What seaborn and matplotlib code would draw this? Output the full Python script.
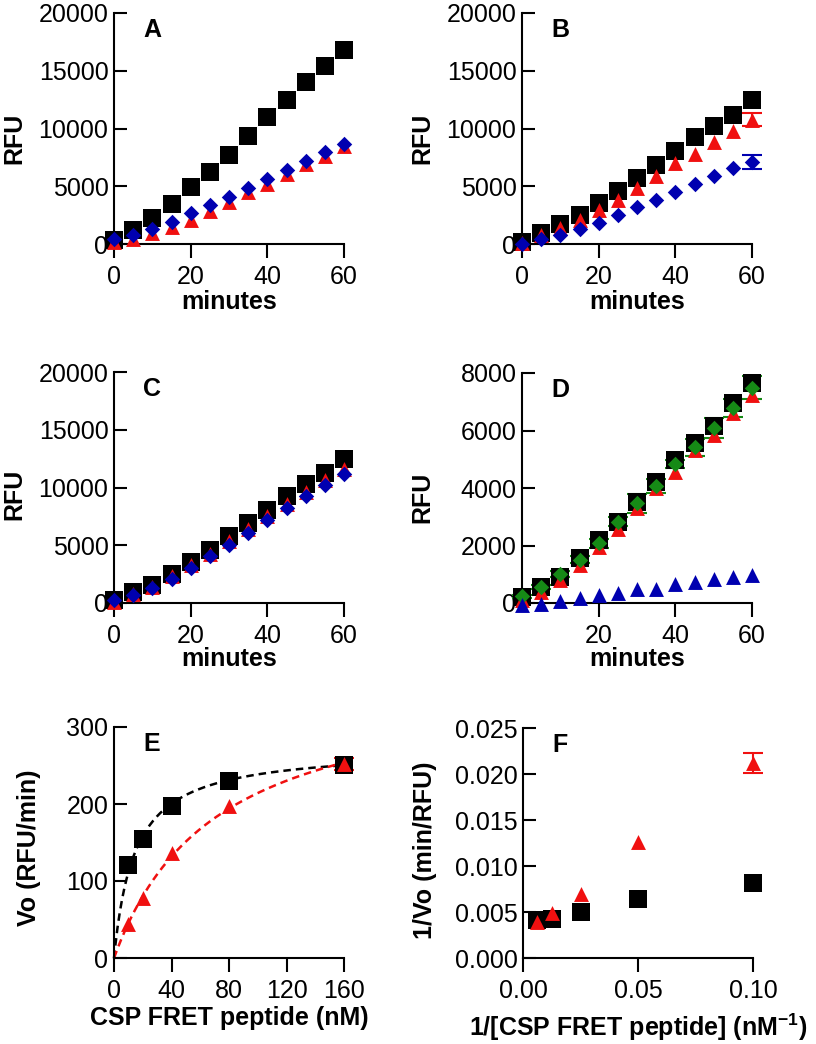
import numpy as np
import matplotlib
matplotlib.use("Agg")
import matplotlib.pyplot as plt
import seaborn as sns

sns.set_theme(style="ticks")
plt.rcParams["font.family"] = ["Liberation Sans", "DejaVu Sans"]
plt.rcParams["mathtext.fontset"] = "custom"
plt.rcParams["mathtext.rm"] = "Liberation Sans"
plt.rcParams["mathtext.bf"] = "Liberation Sans:bold"
for key in ["text.color", "axes.labelcolor", "xtick.color", "ytick.color", "axes.edgecolor"]:
    plt.rcParams[key] = "black"

# colours
BLACK = "#000000"
RED = "#F01010"
BLUE = "#0000B0"
GREEN = "#168A16"

# time course panels (A-D)
minutes = [0, 5, 10, 15, 20, 25, 30, 35, 40, 45, 50, 55, 60]

a_black = [380, 1240, 2250, 3490, 4940, 6200, 7740, 9320, 10970, 12440, 14030, 15380, 16830]
a_red = [150, 430, 950, 1440, 2100, 2890, 3600, 4470, 5190, 6030, 6900, 7650, 8460]
a_blue = [430, 800, 1300, 1900, 2680, 3350, 4070, 4850, 5660, 6400, 7220, 7940, 8690]

b_black = [150, 950, 1730, 2540, 3550, 4560, 5710, 6870, 8020, 9240, 10190, 11200, 12500]
b_red = [100, 800, 1390, 2100, 2910, 3840, 4850, 5920, 7010, 7820, 8830, 9810, 10770]
b_blue = [30, 430, 800, 1300, 1820, 2540, 3170, 3840, 4500, 5190, 5860, 6580, 7100]
b_err_x = [60]
b_red_err = [580]
b_blue_err = [620]

c_black = [290, 950, 1530, 2540, 3550, 4560, 5770, 6930, 8080, 9240, 10270, 11260, 12500]
c_red = [100, 750, 1400, 2350, 3250, 4250, 5350, 6450, 7500, 8600, 9650, 10650, 11600]
c_blue = [290, 660, 1300, 2110, 3030, 4070, 5050, 6060, 7160, 8230, 9260, 10250, 11200]

d_black = [210, 560, 910, 1580, 2190, 2830, 3520, 4220, 4980, 5560, 6160, 6950, 7650]
d_red = [120, 380, 790, 1310, 1950, 2590, 3300, 3990, 4570, 5330, 5850, 6600, 7240]
d_green = [230, 560, 1000, 1510, 2070, 2830, 3470, 4080, 4840, 5410, 6080, 6780, 7480]
d_green_err = [60, 80, 100, 120, 150, 150, 330, 250, 150, 290, 350, 300, 400]
d_blue = [-80, -20, 60, 190, 270, 350, 500, 500, 650, 730, 850, 910, 990]

# kinetics panels (E, F)
conc = [10, 20, 40, 80, 160]
e_black = [121, 154, 197, 230, 251]
e_red = [44, 78, 137, 197, 252]
e_err_x = [160]
e_red_err = [8]

inv_conc = [0.1, 0.05, 0.025, 0.0125, 0.00625]
f_black = [0.0082, 0.00643, 0.00495, 0.00423, 0.00408]
f_red = [0.0212, 0.0126, 0.0070, 0.0049, 0.0039]
f_err_x = [0.1]
f_red_err = [0.00107]

W, H = 816, 1044
fig = plt.figure(figsize=(W / 100, H / 100), dpi=100)

SQ = dict(marker="s", s=165)
TRI = dict(marker="^", s=115)
DIA = dict(marker="D", s=62)


def px_axes(left, top, right, bottom):
    ax = fig.add_axes([left / W, 1 - bottom / H, (right - left) / W, (bottom - top) / H])
    ax._box = (left, top, right, bottom)
    return ax


def dots(ax, x, y, color, style, z):
    sns.scatterplot(x=x, y=y, ax=ax, color=color, linewidth=0, legend=False,
                    clip_on=False, zorder=z, **style)


def bars(ax, x, y, err, color, z):
    ax.errorbar(x, y, yerr=err, fmt="none", ecolor=color, elinewidth=1.5,
                capsize=7, capthick=1.5, clip_on=False, zorder=z)


def style(ax, letter, xlim, ylim, xticks, xlabels, yticks, ylabels,
          xlabel, ylabel, xlab_pos, ylab_pos):
    left, top, right, bottom = ax._box
    ax.set_xlim(*xlim)
    ax.set_ylim(*ylim)
    ax.set_xticks(xticks, labels=xlabels)
    ax.set_yticks(yticks, labels=ylabels)
    sns.despine(ax=ax)
    for side in ["left", "bottom"]:
        ax.spines[side].set_linewidth(1.5)
    ax.tick_params(axis="y", direction="in", length=9.5, width=1.5, pad=4, labelsize=18)
    ax.tick_params(axis="x", direction="out", length=10, width=1.5, pad=5, labelsize=18)
    ax.set_xlabel(xlabel, fontsize=18, fontweight="bold", va="center")
    ax.set_ylabel(ylabel, fontsize=18, fontweight="bold", va="center")
    ax.xaxis.set_label_coords((xlab_pos[0] - left) / (right - left),
                              (bottom - xlab_pos[1]) / (bottom - top))
    ax.yaxis.set_label_coords((ylab_pos[0] - left) / (right - left),
                              (bottom - ylab_pos[1]) / (bottom - top))
    ax.text((left + 29) / W, 1 - (top + 5) / H, letter, transform=fig.transFigure,
            fontsize=18, fontweight="bold", ha="left", va="top")


rfu_ticks = [0, 5000, 10000, 15000, 20000]
rfu_labels = [str(t) for t in rfu_ticks]
min_ticks = [0, 20, 40, 60]
min_labels = [str(t) for t in min_ticks]

# A
ax = px_axes(114, 13, 344, 244)
dots(ax, minutes, a_black, BLACK, SQ, 3)
dots(ax, minutes, a_red, RED, TRI, 4)
dots(ax, minutes, a_blue, BLUE, DIA, 5)
style(ax, "A", (0, 60), (0, 20000), min_ticks, min_labels, rfu_ticks, rfu_labels,
      "minutes", "RFU", (229, 302), (14, 138))

# B
ax = px_axes(522, 13, 752, 244)
dots(ax, minutes, b_black, BLACK, SQ, 3)
dots(ax, minutes, b_red, RED, TRI, 4)
dots(ax, minutes, b_blue, BLUE, DIA, 5)
bars(ax, b_err_x, b_red[-1:], b_red_err, RED, 4)
bars(ax, b_err_x, b_blue[-1:], b_blue_err, BLUE, 5)
style(ax, "B", (0, 60), (0, 20000), min_ticks, min_labels, rfu_ticks, rfu_labels,
      "minutes", "RFU", (637, 302), (422, 138))

# C
ax = px_axes(114, 372, 344, 603)
dots(ax, minutes, c_black, BLACK, SQ, 3)
dots(ax, minutes, c_red, RED, TRI, 4)
dots(ax, minutes, c_blue, BLUE, DIA, 5)
style(ax, "C", (0, 60), (0, 20000), min_ticks, min_labels, rfu_ticks, rfu_labels,
      "minutes", "RFU", (229, 659), (14, 494))

# D
ax = px_axes(522, 373, 752, 603)
bars(ax, minutes, d_green, d_green_err, GREEN, 2)
dots(ax, minutes, d_black, BLACK, SQ, 3)
dots(ax, minutes, d_red, RED, TRI, 4)
dots(ax, minutes, d_green, GREEN, DIA, 5)
dots(ax, minutes, d_blue, BLUE, TRI, 6)
d_ticks = [0, 2000, 4000, 6000, 8000]
style(ax, "D", (0, 60), (0, 8000), [20, 40, 60], ["20", "40", "60"],
      d_ticks, [str(t) for t in d_ticks], "minutes", "RFU", (637, 659), (422, 497))

# E - Michaelis-Menten fit (Hanes-Woolf linearisation of the points)
ax = px_axes(114, 727, 344, 958)
s_fit = np.linspace(0, 160, 200)
for vals, color in [(e_black, BLACK), (e_red, RED)]:
    slope, icpt = np.polyfit(conc, np.array(conc) / np.array(vals), 1)
    vmax, km = 1 / slope, icpt / slope
    sns.lineplot(x=s_fit, y=vmax * s_fit / (km + s_fit), ax=ax, color=color,
                 linestyle=(0, (3, 2)), linewidth=1.8, clip_on=False, zorder=2)
bars(ax, e_err_x, e_red[-1:], e_red_err, RED, 3)
dots(ax, conc, e_black, BLACK, SQ, 4)
dots(ax, conc, e_red, RED, TRI, 5)
e_xt = [0, 40, 80, 120, 160]
e_yt = [0, 100, 200, 300]
style(ax, "E", (0, 160), (0, 300), e_xt, [str(t) for t in e_xt], e_yt,
      [str(t) for t in e_yt], "CSP FRET peptide (nM)", "Vo (RFU/min)",
      (229, 1018), (29, 848))

# F
ax = px_axes(523, 728, 753, 958)
bars(ax, f_err_x, f_red[:1], f_red_err, RED, 3)
dots(ax, inv_conc, f_black, BLACK, SQ, 4)
dots(ax, inv_conc, f_red, RED, TRI, 5)
f_xt = [0.0, 0.05, 0.10]
f_yt = [0.0, 0.005, 0.010, 0.015, 0.020, 0.025]
style(ax, "F", (0, 0.10), (0, 0.025), f_xt, [f"{t:.2f}" for t in f_xt], f_yt,
      [f"{t:.3f}" for t in f_yt], r"1/[CSP FRET peptide] (nM$^{\mathbf{-1}}$)",
      "1/Vo (min/RFU)", (638, 1027), (425, 850))

fig.savefig("out.png", dpi=100)
